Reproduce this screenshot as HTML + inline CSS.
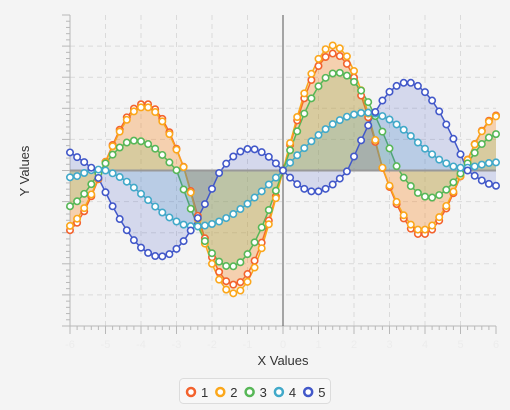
<!DOCTYPE html>
<html><head><meta charset="utf-8"><style>
html,body{margin:0;padding:0;background:#f4f4f4;}
svg{display:block;font-family:"Liberation Sans",sans-serif;}
</style></head><body>
<svg id="chart" width="510" height="410" viewBox="0 0 510 410">
<g id="grid"></g>
<g id="axes"></g>
<g id="series"></g>
<text x="283" y="365" text-anchor="middle" font-size="13" fill="#333">X Values</text>
<text x="0" y="0" transform="translate(29,171) rotate(-90)" text-anchor="middle" font-size="13" fill="#333">Y Values</text>
<g>
<rect x="179.5" y="378.5" width="151" height="25" rx="4" fill="#f7f7f7" stroke="#dcdcdc"/>
</g>
<g id="legend"></g>
</svg>
<script>
const xs = [];
for (let i = 0; i <= 60; i++) xs.push(+(-6 + i * 0.2).toFixed(1));
const seriesNames = ["1","2","3","4","5"];
const s1 = [-1.92,-1.68,-1.31,-0.83,-0.28,0.28,0.82,1.31,1.71,1.99,2.13,2.13,1.97,1.66,1.23,0.70,0.12,-0.66,-1.46,-2.18,-2.79,-3.26,-3.56,-3.67,-3.59,-3.33,-2.90,-2.32,-1.61,-0.83,0,0.82,1.61,2.32,2.91,3.36,3.65,3.76,3.68,3.43,2.99,2.41,1.71,0.92,0.08,-0.53,-1.08,-1.54,-1.87,-2.04,-2.04,-1.90,-1.61,-1.22,-0.73,-0.19,0.35,0.85,1.28,1.60,1.77];
const s2 = [-1.78,-1.55,-1.21,-0.77,-0.26,0.27,0.78,1.25,1.63,1.90,2.03,2.03,1.88,1.58,1.17,0.67,0.11,-0.71,-1.57,-2.35,-3.00,-3.51,-3.83,-3.95,-3.86,-3.58,-3.12,-2.50,-1.73,-0.89,0,0.88,1.72,2.48,3.11,3.59,3.90,4.02,3.93,3.67,3.20,2.58,1.83,0.98,0.09,-0.49,-1.01,-1.44,-1.74,-1.90,-1.90,-1.77,-1.50,-1.14,-0.68,-0.18,0.34,0.84,1.26,1.57,1.74];
const s3 = [-1.15,-0.99,-0.75,-0.44,-0.09,0.23,0.51,0.74,0.90,0.96,0.94,0.85,0.70,0.50,0.26,0.01,-0.61,-1.23,-1.79,-2.27,-2.66,-2.93,-3.07,-3.08,-2.95,-2.69,-2.31,-1.83,-1.27,-0.65,0,0.65,1.26,1.83,2.32,2.71,2.98,3.12,3.14,3.05,2.85,2.57,2.20,1.75,1.25,0.71,0.14,-0.23,-0.50,-0.72,-0.84,-0.87,-0.79,-0.62,-0.38,-0.10,0.23,0.57,0.85,1.06,1.17];
const s4 = [-0.22,-0.18,-0.08,0.01,0.03,0.00,-0.09,-0.21,-0.36,-0.55,-0.75,-0.95,-1.16,-1.35,-1.51,-1.64,-1.74,-1.79,-1.80,-1.77,-1.72,-1.64,-1.53,-1.40,-1.24,-1.07,-0.87,-0.67,-0.45,-0.23,0,0.25,0.49,0.72,0.94,1.14,1.33,1.49,1.62,1.73,1.80,1.85,1.86,1.83,1.75,1.64,1.48,1.31,1.11,0.90,0.70,0.52,0.35,0.23,0.13,0.09,0.09,0.13,0.19,0.24,0.26];
const s5 = [0.58,0.43,0.27,0.09,-0.24,-0.70,-1.15,-1.56,-1.92,-2.24,-2.48,-2.65,-2.75,-2.76,-2.69,-2.52,-2.27,-1.93,-1.53,-1.08,-0.59,-0.08,0.22,0.45,0.61,0.69,0.68,0.59,0.44,0.23,0,-0.23,-0.44,-0.59,-0.67,-0.67,-0.59,-0.45,-0.26,-0.03,0.45,0.97,1.45,1.88,2.25,2.53,2.72,2.82,2.82,2.72,2.52,2.25,1.90,1.48,1.02,0.52,0,-0.17,-0.32,-0.43,-0.49];
const xTicks = [-6,-5,-4,-3,-2,-1,0,1,2,3,4,5,6];
const yTicks = [-5,-4,-3,-2,-1,0,1,2,3,4,5];
const allSeries = [s1,s2,s3,s4,s5];
const colors = ["#f3622d","#fba71b","#57b757","#41a9c9","#4258c9"];

const L=70,R=496,T=15,B=326;
const X = v => L + (v - (-6)) / 12 * (R - L);
const Y = v => B - (v - (-5)) / 10 * (B - T);
const NS="http://www.w3.org/2000/svg";
function mk(tag, parent, attrs){const e=document.createElementNS(NS,tag);for(const k in attrs)e.setAttribute(k,attrs[k]);parent.appendChild(e);return e;}
const grid=document.getElementById('grid'), axes=document.getElementById('axes'), ser=document.getElementById('series'), leg=document.getElementById('legend');

xTicks.forEach((t,i)=>{
  const x=X(t);
  if(i>0&&i<xTicks.length-1){const g=mk('line',grid,{x1:x,x2:x,y1:T,y2:B,stroke:'#dadada','stroke-dasharray':'5,4'});
  
  }
  const tk=mk('line',axes,{x1:x,x2:x,y1:B,y2:B+8,stroke:'#b8b8b8'});
  
  
  const lb=mk('text',axes,{x:x,y:B+22,'text-anchor':'middle','font-size':'11',fill:'#ececec'});
  lb.textContent=t;
  
  
  if(i<xTicks.length-1){for(let m=1;m<5;m++){const mx=X(t+m*0.2);
    const mt=mk('line',axes,{x1:mx,x2:mx,y1:B,y2:B+4,stroke:'#b8b8b8'});
    
    }}
});
yTicks.forEach((t,i)=>{
  const y=Y(t);
  if(i>0&&i<yTicks.length-1&&t!==0){const g=mk('line',grid,{x1:L,x2:R,y1:y,y2:y,stroke:'#dadada','stroke-dasharray':'5,4'});
  
  }
  const tk=mk('line',axes,{x1:L-8,x2:L,y1:y,y2:y,stroke:'#b8b8b8'});
  
  
  if(i<yTicks.length-1){for(let m=1;m<5;m++){const my=Y(t+m*0.2);
    const mt=mk('line',axes,{x1:L-4,x2:L,y1:my,y2:my,stroke:'#b8b8b8'});
    
    }}
});
const ya=mk('line',axes,{x1:L,x2:L,y1:T,y2:B,stroke:'#b8b8b8'});


const xa=mk('line',axes,{x1:L,x2:R,y1:B,y2:B,stroke:'#b8b8b8'});



allSeries.forEach((vals,si)=>{
  const g=mk('g',ser,{});
  
  
  let d='M'+X(xs[0])+','+Y(0);
  vals.forEach((v,i)=>{d+=' L'+X(xs[i]).toFixed(2)+','+Y(v).toFixed(2);});
  d+=' L'+X(xs[xs.length-1])+','+Y(0)+' Z';
  const a=mk('path',g,{d:d,fill:colors[si],'fill-opacity':'0.18',stroke:'none'});
  
  
  let ld='';
  vals.forEach((v,i)=>{ld+=(i?' L':'M')+X(xs[i]).toFixed(2)+','+Y(v).toFixed(2);});
  const ln=mk('path',g,{d:ld,fill:'none',stroke:colors[si],'stroke-width':'1.5'});
  
  
});
const zl=mk('line',ser,{x1:L,x2:R,y1:Y(0),y2:Y(0),stroke:'#999','stroke-width':'2'});


const va=mk('line',ser,{x1:X(0),x2:X(0),y1:T,y2:B,stroke:'#555','stroke-width':'1'});


allSeries.forEach((vals,si)=>{
  vals.forEach((v,i)=>{
    const c=mk('circle',ser,{cx:X(xs[i]).toFixed(2),cy:Y(v).toFixed(2),r:'3.2',fill:'#fff',stroke:colors[si],'stroke-width':'1.6'});
    
    
  });
});
seriesNames.forEach((n,i)=>{
  const cx=191+i*29.3;
  const c=mk('circle',leg,{cx:cx,cy:392,r:'4',fill:'#fff',stroke:colors[i],'stroke-width':'2.5'});
  
  
  const t=mk('text',leg,{x:cx+10,y:397,'font-size':'13',fill:'#333'});
  t.textContent=n;
  
  
});
</script>
</body></html>
